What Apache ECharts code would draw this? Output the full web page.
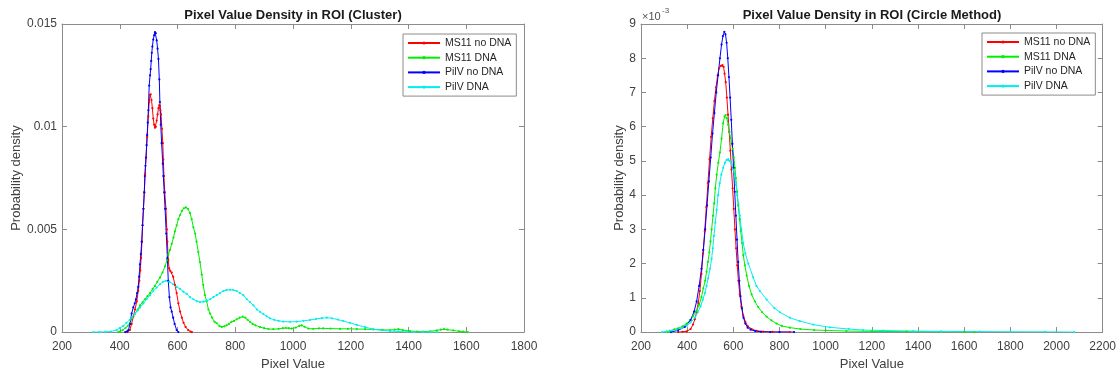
<!DOCTYPE html>
<html>
<head>
<meta charset="utf-8">
<script src="https://cdn.jsdelivr.net/npm/echarts@6/dist/echarts.min.js"></script>
<style>
html,body{margin:0;padding:0;background:#fff;}
#chart{width:1119px;height:376px;}
</style>
</head>
<body>
<div id="chart"></div>
<script>
// ---------- DATA ----------
const seriesNames = ['MS11 no DNA', 'MS11 DNA', 'PilV no DNA', 'PilV DNA'];
const seriesColors = ['#ff0000', '#00ee00', '#0000ff', '#00eeee'];

const clusterTitle = 'Pixel Value Density in ROI (Cluster)';
const circleTitle = 'Pixel Value Density in ROI (Circle Method)';
const xName = 'Pixel Value';
const yName = 'Probability density';

// Cluster plot: [pixel value, probability density]
const clusterMs11NoDna = [[427,0],[435,0.0001],[441,0.0004],[447,0.00075],[453,0.0011],[459,0.0015],[464,0.002],[468,0.0025],[471,0.003],[474,0.0036],[477,0.0044],[479,0.0052],[482,0.006],[485,0.0068],[488,0.0077],[491,0.0085],[495,0.0095],[499,0.0105],[502,0.0112],[505,0.01155],[507,0.01157],[510,0.0113],[513,0.0109],[516,0.0104],[519,0.0101],[522,0.00995],[525,0.0100],[528,0.0103],[531,0.0106],[534,0.0109],[537,0.01105],[539,0.0110],[541,0.0108],[543,0.0106],[546,0.0099],[549,0.0092],[551,0.0084],[553,0.0076],[556,0.0068],[560,0.006],[563,0.005],[565,0.0044],[568,0.0035],[571,0.0031],[575,0.00298],[580,0.0029],[585,0.0027],[591,0.0023],[597,0.0019],[603,0.0014],[609,0.001],[615,0.0007],[621,0.00045],[628,0.00025],[637,0.0001],[645,0.00003],[650,0]];
const clusterMs11Dna = [[394,0],[401,0.00002],[410,0.0001],[420,0.0002],[428,0.0003],[435,0.00045],[444,0.0007],[453,0.0009],[462,0.0011],[470,0.0013],[479,0.00145],[487,0.0016],[496,0.00175],[505,0.0019],[514,0.0021],[522,0.00225],[530,0.00245],[539,0.00265],[548,0.0029],[557,0.0032],[563,0.0035],[568,0.00376],[574,0.004],[580,0.0043],[586,0.0046],[591,0.0049],[597,0.0052],[603,0.0055],[609,0.0057],[615,0.0059],[622,0.00603],[629,0.00607],[636,0.006],[643,0.0058],[649,0.0055],[655,0.0051],[661,0.0048],[666,0.0044],[672,0.0039],[678,0.0034],[684,0.0028],[689,0.0023],[695,0.0018],[701,0.0015],[707,0.0011],[713,0.0009],[720,0.0007],[728,0.0005],[736,0.00043],[745,0.0003],[753,0.00025],[762,0.00028],[770,0.00033],[778,0.0004],[787,0.0005],[796,0.00055],[805,0.00062],[815,0.0007],[826,0.00075],[835,0.0007],[843,0.0006],[851,0.0005],[860,0.0004],[870,0.00033],[886,0.00024],[900,0.00019],[915,0.00015],[932,0.00014],[950,0.00016],[965,0.00019],[975,0.0002],[985,0.00019],[995,0.00017],[1010,0.00022],[1022,0.0003],[1030,0.00033],[1040,0.00026],[1053,0.00017],[1070,0.00016],[1090,0.00018],[1105,0.00018],[1130,0.00017],[1163,0.00016],[1190,0.00016],[1221,0.00015],[1250,0.00014],[1278,0.00013],[1310,0.00011],[1336,0.0001],[1352,0.00012],[1365,0.00014],[1380,0.0001],[1405,0.00005],[1430,0.00003],[1451,0.00002],[1475,0.00004],[1498,0.00008],[1512,0.00012],[1523,0.00014],[1535,0.00012],[1555,0.00008],[1575,0.00004],[1590,0.00002],[1605,0]];
const clusterPilvNoDna = [[419,0],[425,0.00003],[430,0.0001],[436,0.0004],[441,0.0009],[447,0.0012],[452,0.0014],[456,0.0016],[460,0.0019],[464,0.0022],[467,0.0027],[470,0.0033],[473,0.0038],[476,0.0044],[479,0.0052],[482,0.006],[485,0.0068],[487,0.0076],[489,0.0081],[491,0.0085],[493,0.0091],[495,0.0096],[497,0.0102],[499,0.0108],[502,0.012],[505,0.0125],[507,0.0128],[509,0.0132],[511,0.0136],[513,0.0139],[516,0.01424],[519,0.01445],[522,0.0146],[525,0.01455],[528,0.0142],[531,0.0138],[534,0.0133],[537,0.0123],[539,0.0112],[542,0.0101],[545,0.0092],[549,0.0082],[551,0.0076],[554,0.0068],[557,0.006],[561,0.0048],[565,0.0036],[568,0.0025],[572,0.0017],[576,0.0012],[580,0.001],[585,0.0007],[590,0.0004],[597,0.0001],[603,0]];
const clusterPilvDna = [[308,0],[330,0],[350,0.00001],[370,0.00003],[389,0.0001],[400,0.0002],[412,0.0003],[423,0.00045],[435,0.0006],[444,0.00075],[453,0.0009],[462,0.00105],[470,0.0012],[482,0.0014],[493,0.0016],[505,0.0018],[516,0.002],[528,0.00217],[539,0.00233],[550,0.00245],[560,0.0025],[572,0.00245],[585,0.00233],[597,0.0022],[609,0.0021],[620,0.00197],[632,0.00186],[643,0.0017],[655,0.0016],[667,0.0015],[678,0.00146],[690,0.00148],[701,0.00153],[713,0.0016],[724,0.0017],[736,0.0018],[747,0.0019],[759,0.002],[770,0.00205],[782,0.00206],[793,0.00205],[805,0.002],[816,0.0019],[828,0.0018],[840,0.0016],[851,0.00146],[863,0.0013],[875,0.0011],[886,0.00098],[897,0.00088],[909,0.00077],[920,0.00067],[935,0.0006],[950,0.00055],[966,0.00051],[990,0.0005],[1013,0.00051],[1036,0.00055],[1059,0.00059],[1080,0.00064],[1100,0.00068],[1117,0.0007],[1135,0.00067],[1155,0.00061],[1174,0.00054],[1197,0.00045],[1221,0.00035],[1250,0.00024],[1278,0.00014],[1307,0.00009],[1336,0.00005],[1365,0.00003],[1394,0.00001],[1420,0],[1451,0],[1475,0],[1500,0]];

// Circle method plot: [pixel value, probability density in units of 1e-3]
const circleMs11NoDna = [[361,0],[380,0.01],[398,0.02],[415,0.09],[425,0.22],[434,0.38],[441,0.6],[448,0.85],[455,1.2],[462,1.7],[469,2.3],[476,2.95],[483,3.65],[490,4.35],[497,5.05],[504,5.7],[511,6.25],[518,6.75],[525,7.15],[532,7.5],[539,7.72],[546,7.78],[553,7.8],[558,7.75],[562,7.55],[567,7.3],[572,6.85],[577,6.35],[582,5.85],[587,5.3],[592,4.75],[597,4.2],[602,3.6],[607,3.0],[612,2.45],[617,1.95],[622,1.5],[628,1.1],[635,0.75],[643,0.48],[652,0.3],[663,0.17],[679,0.09],[700,0.04],[730,0.015],[770,0.005],[845,0]];
const circleMs11Dna = [[314,0],[326,0.04],[345,0.08],[361,0.11],[380,0.17],[398,0.25],[412,0.35],[426,0.47],[440,0.62],[452,0.8],[462,1.02],[470,1.28],[478,1.5],[484,1.76],[490,2.05],[496,2.33],[501,2.65],[506,3.0],[512,3.4],[517,3.76],[522,4.2],[528,4.6],[535,4.95],[542,5.25],[549,5.65],[556,6.1],[562,6.3],[567,6.34],[572,6.25],[578,6.06],[583,5.85],[588,5.67],[593,5.5],[597,5.35],[602,5.1],[607,4.8],[611,4.5],[616,4.1],[621,3.7],[627,3.3],[632,2.95],[638,2.6],[643,2.25],[650,1.95],[658,1.65],[668,1.35],[679,1.1],[693,0.9],[708,0.73],[725,0.58],[744,0.45],[765,0.34],[787,0.25],[810,0.18],[845,0.13],[890,0.09],[950,0.06],[1000,0.05],[1090,0.03],[1200,0.02],[1350,0.015],[1500,0.01],[1600,0.005],[1644,0]];
const circlePilvNoDna = [[330,0],[360,0.05],[390,0.15],[415,0.35],[430,0.6],[441,0.9],[452,1.35],[462,1.85],[470,2.4],[478,3.0],[486,3.7],[494,4.4],[502,5.1],[510,5.8],[518,6.4],[526,7.0],[534,7.5],[542,8.0],[549,8.4],[555,8.65],[561,8.77],[566,8.7],[571,8.45],[576,8.0],[581,7.45],[586,6.85],[591,6.2],[596,5.5],[601,4.8],[606,4.1],[611,3.4],[616,2.7],[621,2.05],[626,1.5],[631,1.05],[637,0.7],[644,0.42],[652,0.25],[662,0.13],[675,0.07],[695,0.03],[720,0.01],[760,0],[800,0],[863,0]];
const circlePilvDna = [[291,0],[311,0.02],[330,0.04],[354,0.07],[376,0.12],[398,0.18],[415,0.28],[434,0.42],[446,0.58],[458,0.75],[468,0.95],[477,1.14],[484,1.35],[491,1.57],[499,1.85],[506,2.14],[511,2.45],[516,2.81],[522,3.2],[528,3.57],[534,4.0],[541,4.35],[548,4.6],[556,4.8],[564,4.95],[571,5.03],[578,5.05],[585,5.0],[593,4.9],[600,4.75],[607,4.55],[612,4.3],[617,4.0],[622,3.75],[628,3.4],[635,3.0],[643,2.6],[652,2.3],[665,2.0],[686,1.6],[700,1.35],[715,1.2],[744,0.95],[778,0.7],[802,0.58],[845,0.42],[888,0.32],[946,0.22],[1018,0.14],[1100,0.09],[1162,0.06],[1250,0.045],[1379,0.03],[1500,0.02],[1667,0.015],[1800,0.01],[1950,0.007],[2076,0]];

const clusterXTicks = {min: 200, max: 1800, step: 200};
const clusterYTicks = {min: 0, max: 0.015, step: 0.005};
const circleXTicks = {min: 200, max: 2200, step: 200};
const circleYTicks = {min: 0, max: 9, step: 1};
const circleExponent = '-3';

// ---------- CHART ----------
const FONT = '"Liberation Sans", Arial, Helvetica, sans-serif';
const AXIS_COLOR = '#8c8c8c';
const TEXT_COLOR = '#404040';
const plainNum = v => String(v);

function xAx(grid, t, top) {
  return {
    gridIndex: grid, type: 'value', min: t.min, max: t.max, interval: t.step,
    position: top ? 'top' : 'bottom',
    name: top ? '' : xName, nameLocation: 'middle', nameGap: 25,
    nameTextStyle: {fontFamily: FONT, fontSize: 13, color: TEXT_COLOR},
    axisLine: {show: true, onZero: false, lineStyle: {color: AXIS_COLOR, width: 1}},
    axisTick: {show: true, inside: true, length: 5, lineStyle: {color: AXIS_COLOR}},
    axisLabel: {show: !top, fontFamily: FONT, fontSize: 12, color: TEXT_COLOR, margin: 9, formatter: plainNum},
    splitLine: {show: false}
  };
}
function yAx(grid, t, right, gap) {
  return {
    gridIndex: grid, type: 'value', min: t.min, max: t.max, interval: t.step,
    position: right ? 'right' : 'left',
    name: right ? '' : yName, nameLocation: 'middle', nameGap: gap, nameRotate: 90,
    nameTextStyle: {fontFamily: FONT, fontSize: 13, color: TEXT_COLOR},
    axisLine: {show: true, onZero: false, lineStyle: {color: AXIS_COLOR, width: 1}},
    axisTick: {show: true, inside: true, length: 5, lineStyle: {color: AXIS_COLOR}},
    axisLabel: {show: !right, fontFamily: FONT, fontSize: 12, color: TEXT_COLOR, margin: 5, formatter: plainNum},
    splitLine: {show: false}
  };
}

function mkSeries(name, data, color, xi, yi) {
  return {
    name: name, type: 'line', data: data, xAxisIndex: xi, yAxisIndex: yi,
    symbol: 'circle', symbolSize: 2.2, showSymbol: true, showAllSymbol: true,
    lineStyle: {color: color, width: 1},
    itemStyle: {color: color},
    emphasis: {disabled: true},
    animation: false
  };
}

function legend(left, top) {
  return {
    left: left, top: top, orient: 'vertical',
    padding: [3, 5, 3, 4], itemGap: 2.7, itemWidth: 32, itemHeight: 4,
    borderColor: '#8c8c8c', borderWidth: 1, borderRadius: 0, backgroundColor: '#fff',
    textStyle: {fontFamily: FONT, fontSize: 10.5, color: '#262626', lineHeight: 12},
    data: seriesNames, selectedMode: false
  };
}

const chart = echarts.init(document.getElementById('chart'), null, {renderer: 'canvas'});
chart.setOption({
  backgroundColor: '#ffffff',
  animation: false,
  title: [
    {text: clusterTitle, left: 293, top: 9, textAlign: 'center', padding: 0,
     textStyle: {fontFamily: FONT, fontSize: 13, fontWeight: 'bold', color: '#1a1a1a'}},
    {text: circleTitle, left: 872, top: 9, textAlign: 'center', padding: 0,
     textStyle: {fontFamily: FONT, fontSize: 13, fontWeight: 'bold', color: '#1a1a1a'}}
  ],
  legend: [legend(403, 34), legend(982, 33)],
  grid: [
    {left: 62, top: 24, width: 462, height: 315},
    {left: 641, top: 24, width: 462, height: 314}
  ],
  xAxis: [xAx(0, clusterXTicks, false), xAx(0, clusterXTicks, true), xAx(1, circleXTicks, false), xAx(1, circleXTicks, true)],
  yAxis: [
    yAx(0, clusterYTicks, false, 39),
    yAx(0, clusterYTicks, true, 0),
    yAx(1, circleYTicks, false, 15),
    yAx(1, circleYTicks, true, 0)
  ],
  graphic: [
    {type: 'text', left: 642, top: 11, style: {text: '×10', fontFamily: FONT, fontSize: 11, fill: '#505050'}},
    {type: 'text', left: 662, top: 7, style: {text: circleExponent, fontFamily: FONT, fontSize: 8, fill: '#505050'}}
  ],
  series: [
    mkSeries(seriesNames[0], clusterMs11NoDna, seriesColors[0], 0, 0),
    mkSeries(seriesNames[1], clusterMs11Dna, seriesColors[1], 0, 0),
    mkSeries(seriesNames[2], clusterPilvNoDna, seriesColors[2], 0, 0),
    mkSeries(seriesNames[3], clusterPilvDna, seriesColors[3], 0, 0),
    mkSeries(seriesNames[0], circleMs11NoDna, seriesColors[0], 2, 2),
    mkSeries(seriesNames[1], circleMs11Dna, seriesColors[1], 2, 2),
    mkSeries(seriesNames[2], circlePilvNoDna, seriesColors[2], 2, 2),
    mkSeries(seriesNames[3], circlePilvDna, seriesColors[3], 2, 2)
  ]
});
</script>
</body>
</html>
